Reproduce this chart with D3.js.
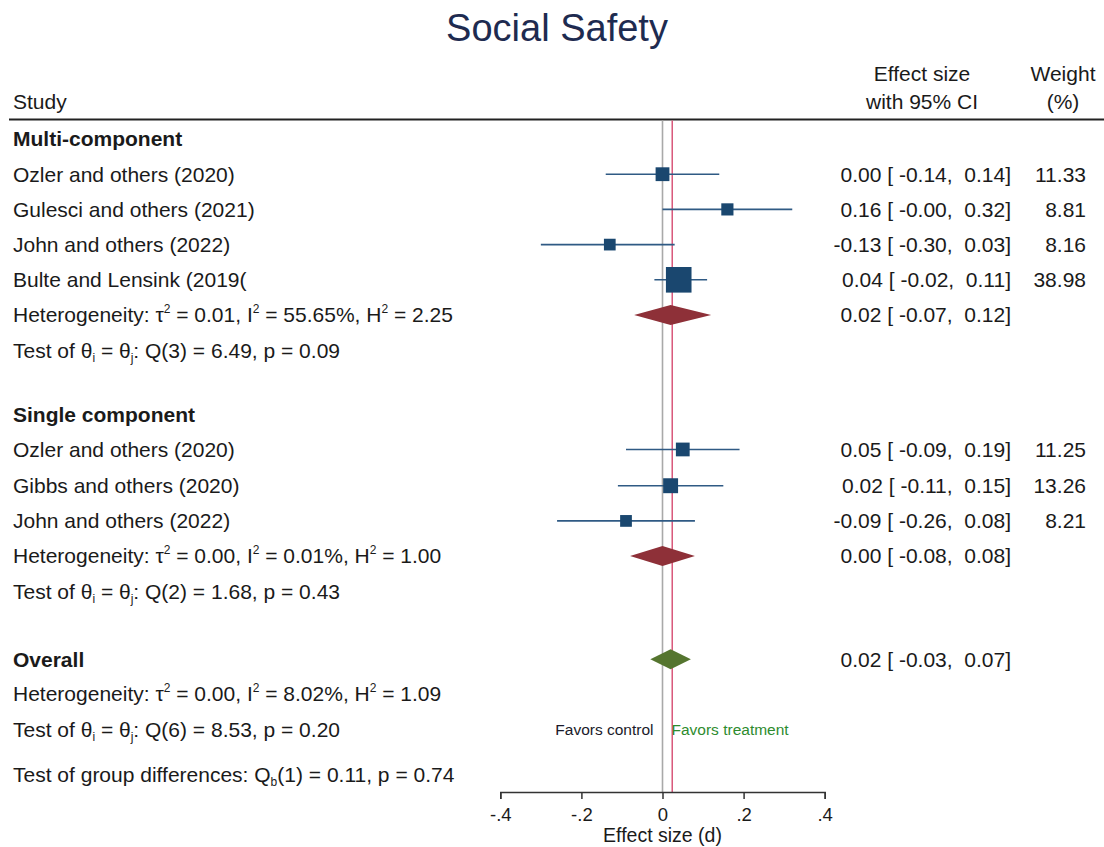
<!DOCTYPE html>
<html>
<head>
<meta charset="utf-8">
<script src="https://cdn.jsdelivr.net/npm/d3@7"></script>
<style>
  html, body { margin: 0; padding: 0; background: #fff; }
  svg { display: block; }
  text { font-family: "Liberation Sans", Arial, sans-serif; white-space: pre; }
</style>
</head>
<body>
<svg id="chart" width="1104" height="847"></svg>
<script>
// ---------------- data ----------------
const chartTitle = "Social Safety";
const groupNames = ["Multi-component", "Single component"];

const studyNames  = ["Ozler and others (2020)", "Gulesci and others (2021)", "John and others (2022)", "Bulte and Lensink (2019(",
                     "Ozler and others (2020)", "Gibbs and others (2020)", "John and others (2022)"];
const studyGroup  = [0, 0, 0, 0, 1, 1, 1];
const studyES     = [0.00, 0.16, -0.13, 0.04, 0.05, 0.02, -0.09];
const studyLo     = [-0.14, -0.00, -0.30, -0.02, -0.09, -0.11, -0.26];
const studyLoText = ["-0.14", "-0.00", "-0.30", "-0.02", "-0.09", "-0.11", "-0.26"];
const studyHi     = [0.14, 0.32, 0.03, 0.11, 0.19, 0.15, 0.08];
const studyWeight = [11.33, 8.81, 8.16, 38.98, 11.25, 13.26, 8.21];

const groupES = [0.02, 0.00];
const groupLo = [-0.07, -0.08];
const groupHi = [0.12, 0.08];
const groupTau2 = ["0.01", "0.00"];
const groupI2   = ["55.65%", "0.01%"];
const groupH2   = ["2.25", "1.00"];
const groupQdf  = [3, 2];
const groupQ    = ["6.49", "1.68"];
const groupP    = ["0.09", "0.43"];

const overallES = 0.02, overallLo = -0.03, overallHi = 0.07;
const overallLine = 0.024;
const overallTau2 = "0.00", overallI2 = "8.02%", overallH2 = "1.09";
const overallQdf = 6, overallQ = "8.53", overallP = "0.20";
const groupDiffDf = 1, groupDiffQ = "0.11", groupDiffP = "0.74";

const xTicks = [-0.4, -0.2, 0, 0.2, 0.4];
const xTickLabels = ["-.4", "-.2", "0", ".2", ".4"];

// ---------------- layout ----------------
const svg = d3.select("#chart");
const W = 1104;
const font = "Liberation Sans, Arial, sans-serif";
const txtCol = "#1a1a1a";
const fs = 21;
const base = fs * 0.35;

const x = d3.scaleLinear().domain([-0.4, 0.4]).range([500.3, 824.7]);
const y = d3.scaleLinear().domain([0, 1]).range([139, 174.2]);
const ruleY = 119.5;
const axisY = 792;

// row positions (in row units)
const rowGroupHead = [0, 7.82];
const rowStudy = [1, 2, 3, 4, 8.82, 9.85, 10.85];
const rowHet = [5, 11.85];
const rowTest = [6, 12.85];
const rowOverall = 14.78, rowOverallHet = 15.75, rowOverallTest = 16.78, rowGroupDiff = 18.05;

const colStudyX = 13;
const colESRight = 1011;
const colWRight = 1086;

const fmt2 = d3.formatLocale({ decimal: ".", thousands: ",", grouping: [3], currency: ["", ""], minus: "-" }).format(".2f");

// title
svg.append("text").attr("x", 557).attr("y", 41).attr("text-anchor", "middle")
  .attr("font-size", 38).attr("fill", "#1e2b50").text(chartTitle);

// headers
svg.append("text").attr("x", colStudyX).attr("y", 109).attr("font-size", fs).attr("fill", txtCol).text("Study");
svg.append("text").attr("x", 922).attr("y", 81).attr("text-anchor", "middle").attr("font-size", fs).attr("fill", txtCol).text("Effect size");
svg.append("text").attr("x", 922).attr("y", 109).attr("text-anchor", "middle").attr("font-size", fs).attr("fill", txtCol).text("with 95% CI");
svg.append("text").attr("x", 1063).attr("y", 81).attr("text-anchor", "middle").attr("font-size", fs).attr("fill", txtCol).text("Weight");
svg.append("text").attr("x", 1063).attr("y", 109).attr("text-anchor", "middle").attr("font-size", fs).attr("fill", txtCol).text("(%)");
svg.append("line").attr("x1", 9).attr("x2", W).attr("y1", ruleY).attr("y2", ruleY)
  .attr("stroke", "#222").attr("stroke-width", 2);

// reference lines
svg.append("line").attr("x1", x(0)).attr("x2", x(0)).attr("y1", ruleY + 1).attr("y2", axisY)
  .attr("stroke", "#a9a9a9").attr("stroke-width", 1.6);
svg.append("line").attr("x1", x(overallLine)).attr("x2", x(overallLine)).attr("y1", ruleY + 1).attr("y2", axisY)
  .attr("stroke", "#d9577a").attr("stroke-width", 1.5);

function ciText(es, loText, hi) {
  return `${fmt2(es)} [ ${loText},  ${fmt2(hi)}]`;
}

function rich(xp, yp, segs, opts = {}) {
  const t = svg.append("text").attr("x", xp).attr("y", yp + base)
    .attr("font-size", fs).attr("fill", txtCol);
  if (opts.bold) t.attr("font-weight", "bold");
  let off = 0;
  segs.forEach(s => {
    let target = 0, text = s, size = null;
    if (typeof s === "object") {
      text = s.t;
      size = 12;
      target = s.sup ? -9 : 4;
    }
    const ts = t.append("tspan").attr("dy", target - off).text(text);
    if (size) ts.attr("font-size", size);
    off = target;
  });
  return t;
}

function rightText(xp, yp, str) {
  svg.append("text").attr("x", xp).attr("y", yp + base).attr("text-anchor", "end")
    .attr("font-size", fs).attr("fill", txtCol).text(str);
}

// group heads
groupNames.forEach((g, i) => rich(colStudyX, y(rowGroupHead[i]), [g], { bold: true }));

// studies
studyNames.forEach((n, i) => {
  const yy = y(rowStudy[i]);
  rich(colStudyX, yy, [n]);
  rightText(colESRight, yy, ciText(studyES[i], studyLoText[i], studyHi[i]));
  rightText(colWRight, yy, fmt2(studyWeight[i]));
  svg.append("line").attr("x1", x(studyLo[i])).attr("x2", x(studyHi[i])).attr("y1", yy).attr("y2", yy)
    .attr("stroke", "#2f5a84").attr("stroke-width", 1.6);
  const side = 4.1 * Math.sqrt(studyWeight[i]);
  svg.append("rect").attr("x", x(studyES[i]) - side / 2).attr("y", yy - side / 2)
    .attr("width", side).attr("height", side).attr("fill", "#1a476f");
});

function diamond(es, lo, hi, yy, color) {
  const h = 10;
  svg.append("path")
    .attr("d", `M${x(lo)},${yy} L${x(es)},${yy - h} L${x(hi)},${yy} L${x(es)},${yy + h} Z`)
    .attr("fill", color);
}

// group summaries
groupNames.forEach((g, i) => {
  const yy = y(rowHet[i]);
  rich(colStudyX, yy, ["Heterogeneity: τ", { t: "2", sup: true }, ` = ${groupTau2[i]}, I`, { t: "2", sup: true },
    ` = ${groupI2[i]}, H`, { t: "2", sup: true }, ` = ${groupH2[i]}`]);
  diamond(groupES[i], groupLo[i], groupHi[i], yy, "#8e3038");
  rightText(colESRight, yy, ciText(groupES[i], fmt2(groupLo[i]), groupHi[i]));
  rich(colStudyX, y(rowTest[i]), ["Test of θ", { t: "i", sub: true }, " = θ", { t: "j", sub: true },
    `: Q(${groupQdf[i]}) = ${groupQ[i]}, p = ${groupP[i]}`]);
});

// overall
rich(colStudyX, y(rowOverall), ["Overall"], { bold: true });
diamond(overallES, overallLo, overallHi, y(rowOverall), "#55752f");
rightText(colESRight, y(rowOverall), ciText(overallES, fmt2(overallLo), overallHi));
rich(colStudyX, y(rowOverallHet), ["Heterogeneity: τ", { t: "2", sup: true }, ` = ${overallTau2}, I`, { t: "2", sup: true },
  ` = ${overallI2}, H`, { t: "2", sup: true }, ` = ${overallH2}`]);
rich(colStudyX, y(rowOverallTest), ["Test of θ", { t: "i", sub: true }, " = θ", { t: "j", sub: true },
  `: Q(${overallQdf}) = ${overallQ}, p = ${overallP}`]);
rich(colStudyX, y(rowGroupDiff), ["Test of group differences: Q", { t: "b", sub: true },
  `(${groupDiffDf}) = ${groupDiffQ}, p = ${groupDiffP}`]);

// favors labels
svg.append("text").attr("x", x(0) - 9).attr("y", y(rowOverallTest) + 5.5).attr("text-anchor", "end")
  .attr("font-size", 15.5).attr("fill", "#1a1a2a").text("Favors control");
svg.append("text").attr("x", x(0) + 9).attr("y", y(rowOverallTest) + 5.5).attr("text-anchor", "start")
  .attr("font-size", 15.5).attr("fill", "#2e8b2e").text("Favors treatment");

// x axis
const axis = d3.axisBottom(x).tickValues(xTicks).tickFormat((d, i) => xTickLabels[i])
  .tickSizeOuter(0).tickSize(7).tickPadding(9);
const ag = svg.append("g").attr("transform", `translate(0,${axisY})`).call(axis);
ag.select(".domain").attr("stroke", "#333").attr("stroke-width", 1.5);
ag.selectAll(".tick line").attr("stroke", "#333").attr("stroke-width", 1.5);
ag.selectAll(".tick text").attr("font-family", font).attr("font-size", 18.5).attr("fill", txtCol);
svg.append("text").attr("x", x(0)).attr("y", 842).attr("text-anchor", "middle")
  .attr("font-size", 19.5).attr("fill", txtCol).text("Effect size (d)");
</script>
</body>
</html>
